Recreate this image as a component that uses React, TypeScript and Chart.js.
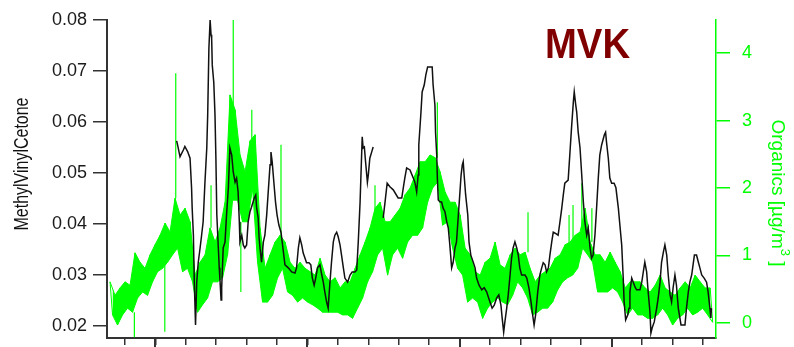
import React, { useEffect, useRef } from "react";
import { Chart, registerables } from "chart.js";

Chart.register(...registerables);

// ---------- data (x in tick units of the time axis) ----------
const X_MIN = -0.59;
const X_MAX = 19.43;
const MAJOR_TICKS = [1, 6, 11, 16];

const LEFT_TITLE = "MethylVinylCetone";
const RIGHT_TITLE_MAIN = "Organics [µg/m";
const RIGHT_TITLE_SUP = "3";
const RIGHT_TITLE_END = " ]";
const CHART_TITLE = "MVK";

const LEFT_TICKS = [0.02, 0.03, 0.04, 0.05, 0.06, 0.07, 0.08];
const RIGHT_TICKS = [0, 1, 2, 3, 4];

// MVK (left axis), null = gap in record
const mvkTime = [
  1.70, 1.73, 1.81, 1.92, 1.97, 2.06, 2.14, 2.19, 2.21, 2.25,
  2.28, 2.32, 2.36, 2.41, 2.47, 2.52, 2.57, 2.63, 2.69, 2.72,
  2.76, 2.80, 2.83, 2.85, 2.87, 2.92, 2.96, 2.99, 3.02, 3.07,
  3.10, 3.12, 3.16, 3.18, 3.23, 3.29, 3.34, 3.40, 3.45, 3.51,
  3.56, 3.62, 3.67, 3.72, 3.76, 3.78, 3.84, 3.89, 3.94, 4.00,
  4.05, 4.11, 4.16, 4.25, 4.30, 4.33, 4.38, 4.41, 4.44, 4.49,
  4.55, 4.60, 4.66, 4.71, 4.77, 4.80, 4.84, 4.91, 4.95, 5.00,
  5.06, 5.13, 5.26, 5.37, 5.48, 5.59, 5.64, 5.70, 5.75, 5.81,
  5.86, 5.92, 5.97, 6.05, 6.11, 6.16, 6.22, 6.27, 6.33, 6.41,
  6.47, 6.52, 6.57, 6.63, 6.68, 6.74, 6.79, 6.85, 6.90, 6.96,
  7.01, 7.07, 7.12, 7.18, 7.23, 7.32, 7.40, 7.47, 7.56, 7.62,
  7.67, 7.73, 7.78, 7.80, 7.83, 7.87, 7.91, 7.97, 8.00, 8.05,
  8.11, 8.16,
  8.30,
  8.49, 8.55, 8.62, 8.71, 8.82, 8.98, 9.10, 9.15, 9.20, 9.26,
  9.37, 9.48, 9.53, 9.59, 9.64, 9.66, 9.73, 9.77, 9.84, 9.89,
  9.95, 10.10, 10.13, 10.19, 10.21, 10.25, 10.27, 10.30, 10.36, 10.41,
  10.46, 10.52, 10.58, 10.63, 10.68, 10.74, 10.79, 10.85, 10.90, 10.96,
  10.99, 11.05, 11.09, 11.12, 11.15, 11.20, 11.27, 11.31, 11.37, 11.45,
  11.51, 11.56, 11.64, 11.73, 11.81, 11.89, 12.00, 12.07, 12.14, 12.22,
  12.29, 12.36, 12.40, 12.45, 12.49, 12.55, 12.60, 12.66, 12.71, 12.76,
  12.82, 12.88, 12.93, 12.98, 13.04, 13.15, 13.21, 13.28, 13.35, 13.39,
  13.45, 13.50, 13.57, 13.64, 13.70, 13.75, 13.81, 13.86, 13.92, 13.97,
  14.03, 14.08, 14.14, 14.24, 14.30, 14.36, 14.41, 14.46, 14.57, 14.63,
  14.68, 14.74, 14.77, 14.82, 14.85, 14.90, 14.96, 15.01, 15.07, 15.12,
  15.18, 15.23, 15.29, 15.34, 15.39, 15.45, 15.51, 15.56, 15.61, 15.67,
  15.76, 15.80, 15.83, 15.89, 15.94, 16.00, 16.08, 16.14, 16.22, 16.27,
  16.33, 16.38, 16.41, 16.46, 16.53, 16.57, 16.60, 16.66, 16.71, 16.77,
  16.82, 16.93, 16.99, 17.04, 17.09, 17.15, 17.20, 17.26, 17.29, 17.33,
  17.40, 17.48, 17.53, 17.59, 17.64, 17.70, 17.75, 17.81, 17.86, 17.92,
  17.97, 18.02, 18.08, 18.13, 18.19, 18.28, 18.41, 18.46, 18.52, 18.57,
  18.63, 18.72, 18.79, 18.85, 18.90, 18.96, 19.04, 19.12, 19.17, 19.23,
  19.26, 19.28,
];

const mvkValue = [
  0.0563, 0.0555, 0.0532, 0.0545, 0.0552, 0.0542, 0.0529, 0.0471, 0.0431, 0.0378,
  0.0286, 0.0202, 0.0286, 0.0325, 0.0353, 0.0378, 0.0404, 0.0482, 0.0549, 0.0614,
  0.0745, 0.0800, 0.0771, 0.0765, 0.0712, 0.0678, 0.0614, 0.0529, 0.0418, 0.0353,
  0.0314, 0.0294, 0.0251, 0.0275, 0.0353, 0.0365, 0.0418, 0.0471, 0.0549, 0.0535,
  0.0502, 0.0482, 0.0490, 0.0463, 0.0404, 0.0365, 0.0378, 0.0359, 0.0353, 0.0359,
  0.0404, 0.0424, 0.0433, 0.0451, 0.0457, 0.0431, 0.0412, 0.0373, 0.0353, 0.0325,
  0.0365, 0.0378, 0.0418, 0.0463, 0.0516, 0.0541, 0.0522, 0.0471, 0.0443, 0.0418,
  0.0398, 0.0384, 0.0320, 0.0314, 0.0306, 0.0304, 0.0314, 0.0353, 0.0373, 0.0359,
  0.0343, 0.0333, 0.0324, 0.0324, 0.0320, 0.0294, 0.0280, 0.0294, 0.0314, 0.0320,
  0.0300, 0.0286, 0.0267, 0.0247, 0.0235, 0.0286, 0.0325, 0.0365, 0.0378, 0.0384,
  0.0375, 0.0359, 0.0339, 0.0314, 0.0294, 0.0286, 0.0300, 0.0306, 0.0306, 0.0310,
  0.0365, 0.0443, 0.0535, 0.0571, 0.0549, 0.0551, 0.0522, 0.0482, 0.0496, 0.0529,
  0.0541, 0.0551,
  null,
  0.0412, 0.0443, 0.0480, 0.0473, 0.0467, 0.0451, 0.0451, 0.0471, 0.0490, 0.0510,
  0.0506, 0.0490, 0.0482, 0.0463, 0.0496, 0.0555, 0.0618, 0.0659, 0.0673, 0.0692,
  0.0708, 0.0708, 0.0673, 0.0633, 0.0580, 0.0535, 0.0490, 0.0447, 0.0443, 0.0443,
  0.0431, 0.0424, 0.0404, 0.0392, 0.0359, 0.0314, 0.0325, 0.0353, 0.0365, 0.0418,
  0.0443, 0.0496, 0.0516, 0.0522, 0.0496, 0.0457, 0.0418, 0.0365, 0.0339, 0.0325,
  0.0314, 0.0294, 0.0280, 0.0271, 0.0275, 0.0267, 0.0247, 0.0235, 0.0241, 0.0255,
  0.0261, 0.0241, 0.0216, 0.0188, 0.0208, 0.0235, 0.0261, 0.0300, 0.0333, 0.0353,
  0.0365, 0.0353, 0.0339, 0.0314, 0.0300, 0.0300, 0.0294, 0.0275, 0.0247, 0.0227,
  0.0202, 0.0222, 0.0267, 0.0300, 0.0314, 0.0324, 0.0320, 0.0306, 0.0314, 0.0339,
  0.0365, 0.0384, 0.0382, 0.0378, 0.0404, 0.0431, 0.0457, 0.0480, 0.0486, 0.0541,
  0.0588, 0.0639, 0.0659, 0.0633, 0.0620, 0.0580, 0.0549, 0.0502, 0.0443, 0.0404,
  0.0378, 0.0392, 0.0353, 0.0333, 0.0339, 0.0378, 0.0437, 0.0490, 0.0535, 0.0555,
  0.0575, 0.0580, 0.0561, 0.0529, 0.0490, 0.0480, 0.0480, 0.0471, 0.0431, 0.0398,
  0.0359, 0.0294, 0.0247, 0.0212, 0.0222, 0.0235, 0.0267, 0.0294, 0.0286, 0.0276,
  0.0271, 0.0271, 0.0286, 0.0306, 0.0325, 0.0306, 0.0267, 0.0227, 0.0186, 0.0196,
  0.0208, 0.0235, 0.0255, 0.0286, 0.0325, 0.0345, 0.0359, 0.0339, 0.0300, 0.0261,
  0.0247, 0.0275, 0.0300, 0.0280, 0.0235, 0.0202, 0.0202, 0.0235, 0.0267, 0.0286,
  0.0300, 0.0339, 0.0339, 0.0325, 0.0314, 0.0300, 0.0294, 0.0286, 0.0267, 0.0235,
  0.0216, 0.0235,
];

// Organics (right axis): per sampling window, the upper and lower edge of the noisy band
const ORG_START = -0.49;
const ORG_STEP = 0.1644;
const organicsHigh = [
  0.61, 0.41, 0.52, 0.61, 0.56, 1.04, 0.90, 0.81, 1.01, 1.16,
  1.30, 1.48, 1.35, 1.85, 1.60, 1.70, 1.50, 0.71, 0.90, 1.01,
  1.41, 1.20, 1.41, 1.79, 3.38, 3.16, 2.49, 2.24, 2.70, 2.79,
  1.41, 0.81, 1.01, 1.20, 1.30, 1.20, 0.90, 0.81, 0.90, 0.81,
  0.76, 0.71, 0.96, 0.71, 0.61, 0.67, 0.52, 0.61, 0.61, 0.81,
  1.01, 1.20, 1.41, 1.70, 1.79, 1.50, 1.50, 1.60, 1.70, 1.90,
  2.00, 2.19, 2.39, 2.39, 2.49, 2.45, 2.24, 1.94, 1.79, 1.79,
  1.60, 1.11, 1.01, 0.76, 0.71, 0.90, 0.96, 1.20, 0.86, 0.81,
  1.01, 1.11, 1.01, 1.05, 0.81, 0.61, 0.71, 0.76, 0.81, 0.96,
  1.01, 1.16, 1.20, 1.30, 1.35, 1.70, 1.20, 1.01, 1.01, 0.90,
  1.05, 0.90, 0.76, 0.52, 0.61, 0.61, 0.61, 0.52, 0.46, 0.56,
  0.71, 0.52, 0.46, 0.41, 0.52, 0.61, 0.52, 0.71, 0.61, 0.52,
  0.52,
];
const organicsLow = [
  0.12, -0.03, 0.12, 0.22, 0.16, 0.37, 0.46, 0.41, 0.61, 0.76,
  0.81, 0.90, 1.01, 1.11, 0.76, 0.81, 0.61, 0.16, 0.27, 0.37,
  0.61, 0.61, 0.67, 1.01, 1.82, 1.82, 1.50, 1.50, 2.00, 0.90,
  0.31, 0.31, 0.41, 0.67, 0.81, 0.46, 0.41, 0.31, 0.37, 0.31,
  0.27, 0.22, 0.16, 0.16, 0.16, 0.16, 0.12, 0.12, 0.07, 0.22,
  0.37, 0.61, 0.76, 1.01, 1.11, 0.71, 1.01, 1.11, 0.96, 1.20,
  1.30, 1.30, 1.41, 1.79, 2.00, 2.09, 1.45, 1.50, 1.11, 0.81,
  0.71, 0.31, 0.37, 0.31, 0.07, 0.22, 0.31, 0.37, 0.31, 0.27,
  0.41, 0.61, 0.52, 0.37, 0.12, 0.16, 0.22, 0.22, 0.31, 0.49,
  0.61, 0.67, 0.71, 0.81, 1.11, 1.01, 0.90, 0.46, 0.46, 0.46,
  0.52, 0.46, 0.31, 0.12, 0.22, 0.12, 0.12, 0.07, 0.07, 0.12,
  0.22, 0.12, -0.03, 0.07, 0.12, 0.22, 0.12, 0.16, 0.22, 0.12,
  0.01,
];
// isolated single-sample spikes of the organics record
const spikeTime = [0.31, 1.31, 1.67, 2.83, 3.56, 3.81, 4.17, 5.13, 8.22, 10.27, 13.25, 14.60, 14.73, 15.02, 15.35];
const spikeBase = [0.16, 0.90, 1.85, 1.41, 3.00, 1.50, 2.70, 1.30, 1.70, 2.45, 1.05, 1.16, 1.20, 1.35, 1.20];
const spikeTip = [-0.21, -0.13, 3.70, 2.04, 4.50, 0.46, 3.16, 2.64, 2.04, 3.27, 1.64, 1.60, 1.75, 2.07, 1.70];

// ---------- styles ----------
const FONT = '"Liberation Sans", Arial, sans-serif';
const GREEN = "#00ff00";
const AXIS_DARK = "#333333";

const mvkPoints = mvkTime.map((t, i) => ({ x: t, y: mvkValue[i] }));
const orgHighPoints = organicsHigh.map((h, i) => ({ x: ORG_START + i * ORG_STEP, y: h }));
const orgLowPoints = organicsLow.map((l, i) => ({ x: ORG_START + (i + 0.5) * ORG_STEP, y: l }));
const orgZigzag = organicsHigh.flatMap((h, i) => [
  { x: ORG_START + i * ORG_STEP, y: h },
  { x: ORG_START + (i + 0.5) * ORG_STEP, y: organicsLow[i] },
]);
const spikePoints = spikeTime.flatMap((t, i) => [
  { x: t, y: spikeBase[i] },
  { x: t, y: spikeTip[i] },
  { x: t, y: null },
]);

const fixPadding = (s: any) => {
  s.paddingTop = 0;
  s.paddingBottom = 0;
  s.paddingLeft = 0;
  s.paddingRight = 0;
};

const decorPlugin = {
  id: "decor",
  afterDraw(chart: any) {
    const ctx = chart.ctx as CanvasRenderingContext2D;
    const area = chart.chartArea;
    const xs = chart.scales.x;

    ctx.save();
    ctx.strokeStyle = AXIS_DARK;
    ctx.lineWidth = 2;
    for (const t of MAJOR_TICKS) {
      const px = Math.round(xs.getPixelForValue(t));
      ctx.beginPath();
      ctx.moveTo(px, area.bottom);
      ctx.lineTo(px, area.bottom + 11);
      ctx.stroke();
    }
    ctx.restore();

    ctx.save();
    ctx.font = `20px ${FONT}`;
    ctx.fillStyle = "#111111";
    ctx.textAlign = "center";
    ctx.textBaseline = "alphabetic";
    const lw = ctx.measureText(LEFT_TITLE).width;
    ctx.translate(27.5, 164);
    ctx.rotate(-Math.PI / 2);
    ctx.scale(133 / lw, 1);
    ctx.fillText(LEFT_TITLE, 0, 0);
    ctx.restore();

    ctx.save();
    ctx.fillStyle = GREEN;
    ctx.textBaseline = "alphabetic";
    ctx.textAlign = "left";
    const mainFont = `19px ${FONT}`;
    const supFont = `13px ${FONT}`;
    ctx.font = mainFont;
    const w1 = ctx.measureText(RIGHT_TITLE_MAIN).width;
    const w3 = ctx.measureText(RIGHT_TITLE_END).width;
    ctx.font = supFont;
    const w2 = ctx.measureText(RIGHT_TITLE_SUP).width;
    const total = w1 + w2 + w3;
    ctx.translate(772, 193);
    ctx.rotate(Math.PI / 2);
    let x0 = -total / 2;
    ctx.font = mainFont;
    ctx.fillText(RIGHT_TITLE_MAIN, x0, 0);
    x0 += w1;
    ctx.font = supFont;
    ctx.fillText(RIGHT_TITLE_SUP, x0, -9);
    x0 += w2;
    ctx.font = mainFont;
    ctx.fillText(RIGHT_TITLE_END, x0, 0);
    ctx.restore();

    ctx.save();
    ctx.font = `bold 43px ${FONT}`;
    ctx.fillStyle = "#800000";
    ctx.textAlign = "left";
    ctx.textBaseline = "alphabetic";
    const mw = ctx.measureText(CHART_TITLE).width;
    ctx.translate(545, 58);
    ctx.scale(85 / mw, 1);
    ctx.fillText(CHART_TITLE, 0, 0);
    ctx.restore();
  },
};

export default function App() {
  const canvasRef = useRef<HTMLCanvasElement | null>(null);

  useEffect(() => {
    const canvas = canvasRef.current;
    if (!canvas) return;
    const greenLine = {
      yAxisID: "y2",
      borderColor: GREEN,
      pointRadius: 0,
      tension: 0,
    };
    const chart = new Chart(canvas, {
      type: "line",
      data: {
        datasets: [
          {
            label: "MVK",
            data: mvkPoints as any,
            yAxisID: "y",
            borderColor: "#111111",
            borderWidth: 1.5,
            pointRadius: 0,
            tension: 0,
            spanGaps: false,
            fill: false,
          },
          {
            ...greenLine,
            label: "Organics spikes",
            data: spikePoints as any,
            borderWidth: 1.2,
            spanGaps: false,
            fill: false,
          },
          {
            ...greenLine,
            label: "Organics",
            data: orgZigzag as any,
            borderWidth: 1,
            borderJoinStyle: "bevel",
            fill: false,
          },
          {
            ...greenLine,
            label: "Organics upper",
            data: orgHighPoints as any,
            borderWidth: 1,
            fill: false,
          },
          {
            ...greenLine,
            label: "Organics lower",
            data: orgLowPoints as any,
            borderWidth: 1,
            backgroundColor: GREEN,
            fill: "-1",
          },
        ],
      },
      options: {
        responsive: false,
        animation: false,
        devicePixelRatio: 1,
        layout: { padding: { top: 20, left: 0, right: 0, bottom: 0 } },
        plugins: {
          legend: { display: false },
          tooltip: { enabled: false },
          title: { display: false },
        },
        scales: {
          x: {
            type: "linear",
            position: "bottom",
            min: X_MIN,
            max: X_MAX,
            grid: {
              drawOnChartArea: false,
              drawTicks: true,
              tickLength: 7,
              color: AXIS_DARK,
              lineWidth: 1.5,
            },
            border: { display: true, color: AXIS_DARK, width: 2 },
            ticks: { stepSize: 1, includeBounds: false, display: false },
            afterFit: (s: any) => {
              s.height = 9;
              fixPadding(s);
            },
          },
          y: {
            type: "linear",
            position: "left",
            min: 0.01765,
            max: 0.08,
            grid: {
              drawOnChartArea: false,
              drawTicks: true,
              tickLength: 14,
              color: AXIS_DARK,
              lineWidth: 1.5,
            },
            border: { display: true, color: AXIS_DARK, width: 2 },
            afterBuildTicks: (s: any) => {
              s.ticks = LEFT_TICKS.map((v) => ({ value: v }));
            },
            ticks: {
              padding: 6,
              color: "#1a1a1a",
              font: { family: FONT, size: 18 },
              callback: (v: any) => Number(v).toFixed(2),
            },
            afterFit: (s: any) => {
              s.width = 107;
              fixPadding(s);
            },
          },
          y2: {
            type: "linear",
            position: "right",
            min: -0.222,
            max: 4.49,
            grid: {
              drawOnChartArea: false,
              drawTicks: true,
              tickLength: 14,
              color: GREEN,
              lineWidth: 1.5,
            },
            border: { display: true, color: GREEN, width: 1.5 },
            afterBuildTicks: (s: any) => {
              s.ticks = RIGHT_TICKS.map((v) => ({ value: v }));
            },
            ticks: {
              padding: 12,
              color: GREEN,
              font: { family: FONT, size: 18 },
              callback: (v: any) => String(v),
            },
            afterFit: (s: any) => {
              s.width = 78;
              fixPadding(s);
            },
          },
        },
      },
      plugins: [decorPlugin],
    });
    return () => chart.destroy();
  }, []);

  return (
    <div style={{ position: "absolute", left: 0, top: 0, width: 794, height: 347, background: "#ffffff" }}>
      <canvas ref={canvasRef} width={794} height={347} style={{ display: "block", width: 794, height: 347 }} />
    </div>
  );
}
